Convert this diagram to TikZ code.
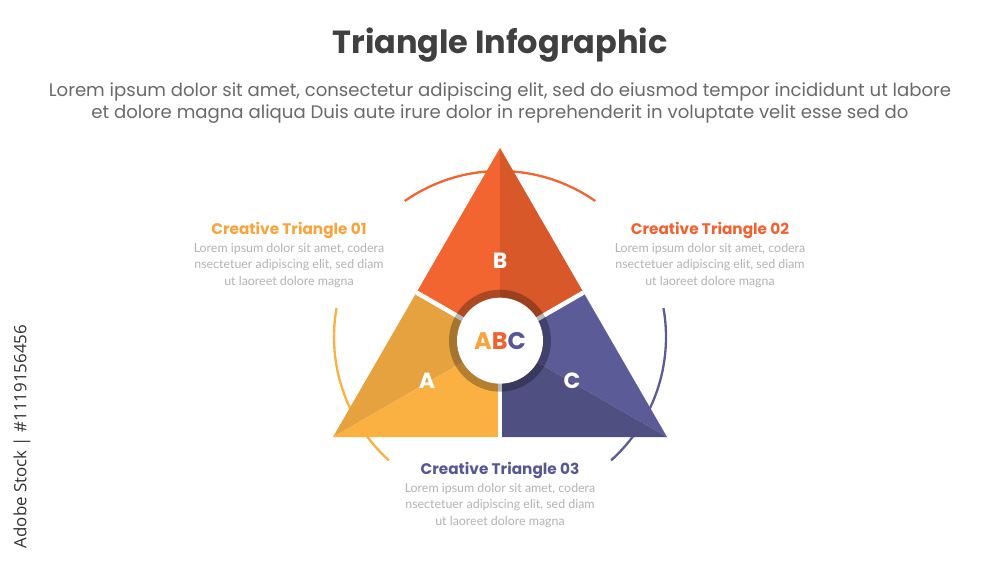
\documentclass[tikz,border=0pt]{standalone}
\usepackage{fontspec}
\setmainfont{Poppins}
\newfontfamily\lato{Lato}
\newfontfamily\osans{Open Sans}
\definecolor{titlegray}{HTML}{404040}
\definecolor{subgray}{HTML}{6A6A6A}
\definecolor{bodygray}{HTML}{B3B3B3}
\definecolor{stockgray}{HTML}{333333}
\definecolor{yelL}{HTML}{FBB142}
\definecolor{yelD}{HTML}{E5A23F}
\definecolor{orgL}{HTML}{F26430}
\definecolor{orgD}{HTML}{D9582A}
\definecolor{purL}{HTML}{5B5B98}
\definecolor{purD}{HTML}{4F4F82}
\definecolor{headY}{HTML}{F9A43A}
\definecolor{headO}{HTML}{F2612E}
\definecolor{headP}{HTML}{575794}
\begin{document}
\begin{tikzpicture}[x=1pt,y=1pt,
  heading/.style={font=\bfseries\fontsize{15.3}{18}\selectfont, inner sep=0pt},
  bodytext/.style={font=\lato\fontsize{12.4}{16.5}\selectfont, text=bodygray, align=center, inner sep=0pt},
  bigarc/.style={line width=2.3pt},
  letter/.style={font=\bfseries\fontsize{22}{24}\selectfont, text=white, inner sep=0pt},
  gap/.style={white, line width=4.5pt}]
\useasboundingbox (0,0) rectangle (1000,563);
\fill[white] (0,0) rectangle (1000,563);
% key points
\coordinate (T) at (500,415);
\coordinate (L) at (333,126);
\coordinate (R) at (667,126);
\coordinate (G) at (500,222.33);
\coordinate (ML) at (416.5,270.5);
\coordinate (MR) at (583.5,270.5);
\coordinate (MB) at (500,126);
\coordinate (AC) at (500,226);
% outer arcs
\draw[bigarc, orgL] ([shift={(55:166)}]AC) arc[start angle=55, end angle=125, radius=166];
\draw[bigarc, yelL] ([shift={(170:166)}]AC) arc[start angle=170, end angle=228, radius=166];
\draw[bigarc, purL] ([shift={(-48:166)}]AC) arc[start angle=-48, end angle=10, radius=166];
% segment B
\fill[orgL] (T) -- (ML) -- (G) -- cycle;
\fill[orgD] (T) -- (G) -- (MR) -- cycle;
% segment A
\fill[yelD] (L) -- (ML) -- (G) -- cycle;
\fill[yelL] (L) -- (G) -- (MB) -- cycle;
% segment C
\fill[purL] (R) -- (G) -- (MR) -- cycle;
\fill[purD] (R) -- (MB) -- (G) -- cycle;
% gaps
\draw[gap] (G) -- (ML);
\draw[gap] (G) -- (MR);
\draw[gap] (G) -- (MB);
% center ring
\fill[black, opacity=0.28] (G) circle[radius=51];
\fill[white] (G) circle[radius=43];
% letters
\node[letter] (lb) at (500,302) {B};
\node[letter] (la) at (427,182) {A};
\node[letter] (lc) at (572,182) {C};
\node[font=\bfseries\fontsize{24}{26}\selectfont, inner sep=0pt] (abc) at (G) {\textcolor{headY}{A}\textcolor{headO}{B}\textcolor{headP}{C}};
% title
\node[font=\bfseries\fontsize{32}{35}\selectfont, text=titlegray, inner sep=0pt] (title) at (500,518) {Triangle Infographic};
\node[font=\fontsize{18.1}{22}\selectfont, text=subgray, align=center, inner sep=0pt] (sub) at (500,460)
  {Lorem ipsum dolor sit amet, consectetur adipiscing elit, sed do eiusmod tempor incididunt ut labore\\
   et dolore magna aliqua Duis aute irure dolor in reprehenderit in voluptate velit esse sed do};
% labels
\node[heading, text=headY] (h1) at (289,333) {Creative Triangle 01};
\node[bodytext, anchor=north] (b1) at (289,320) {Lorem ipsum dolor sit amet, codera\\nsectetuer adipiscing elit, sed diam\\ut laoreet dolore magna};
\node[heading, text=headO] (h2) at (710,333) {Creative Triangle 02};
\node[bodytext, anchor=north] (b2) at (710,320) {Lorem ipsum dolor sit amet, codera\\nsectetuer adipiscing elit, sed diam\\ut laoreet dolore magna};
\node[heading, text=headP] (h3) at (500,93) {Creative Triangle 03};
\node[bodytext, anchor=north] (b3) at (500,80) {Lorem ipsum dolor sit amet, codera\\nsectetuer adipiscing elit, sed diam\\ut laoreet dolore magna};
% side text
\node[font=\osans\fontsize{16.9}{19}\selectfont, text=stockgray, rotate=90, inner sep=0pt] (stock) at (22,126.5) {Adobe Stock | \#1119156456};
\end{tikzpicture}
\end{document}
